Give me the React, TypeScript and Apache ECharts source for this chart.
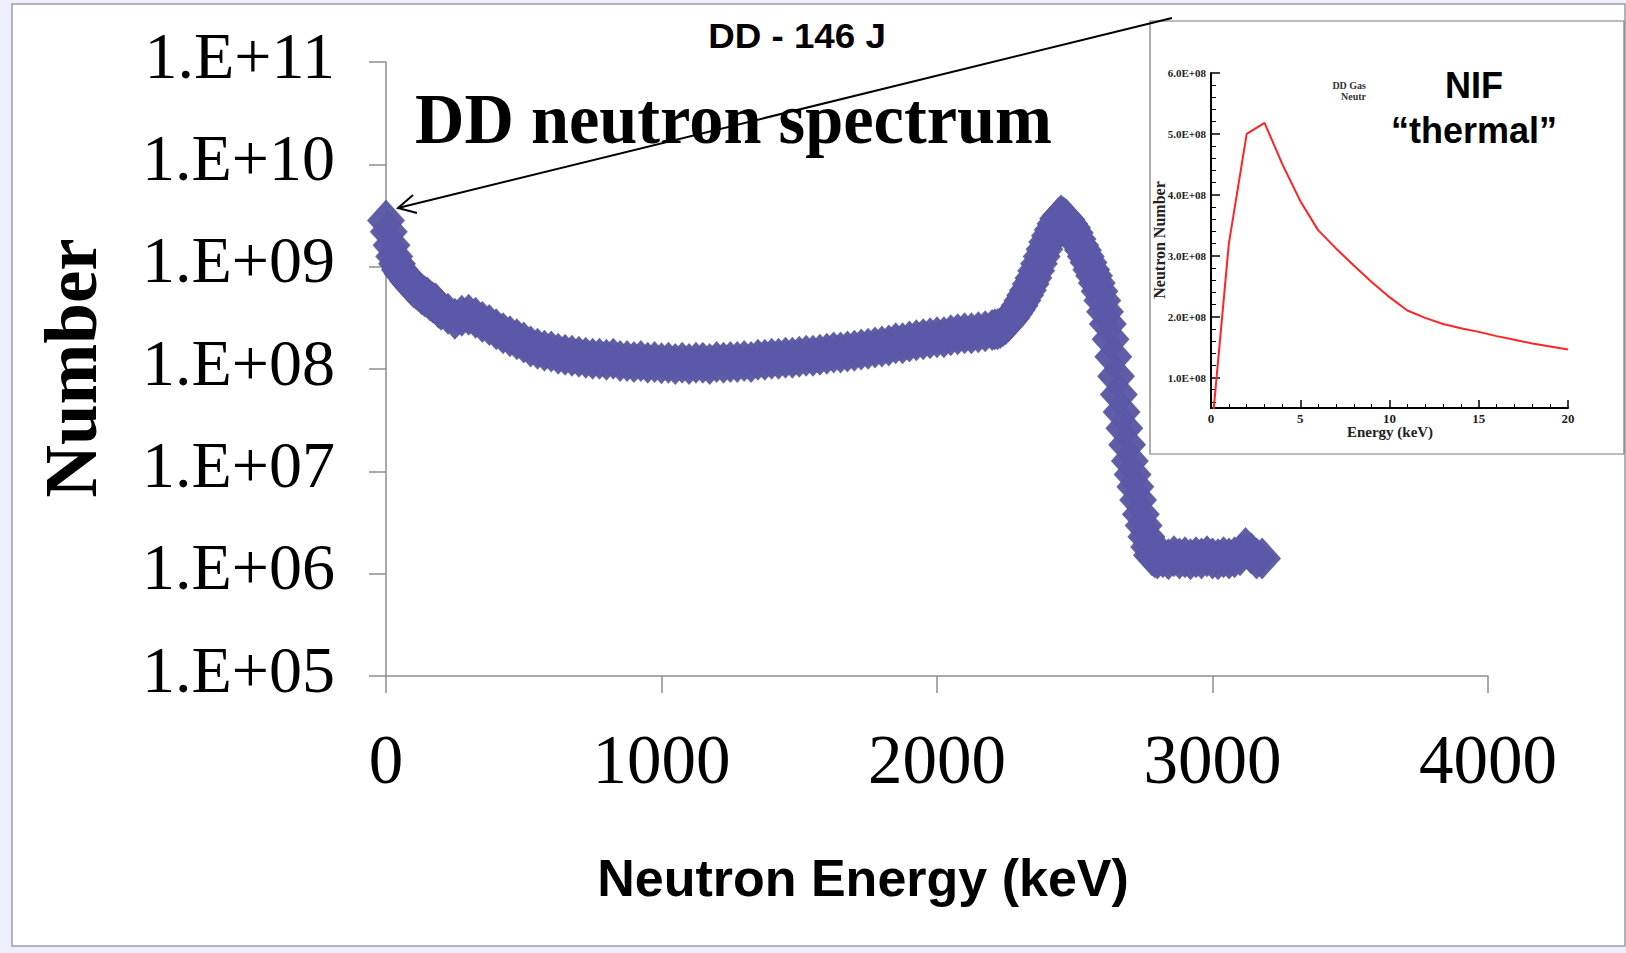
import React, { useEffect, useRef } from "react";
import * as echarts from "echarts";

// DD neutron spectrum: [energy keV, number]
const ddSpectrum: [number, number][] = [
  [0, 2.82e9], [10, 2.19e9], [20, 1.62e9], [30, 1.26e9], [40, 1.07e9], [50, 9.33e8], [60, 8.51e8],
  [70, 7.94e8], [80, 7.24e8], [90, 6.76e8], [100, 6.31e8], [110, 6.03e8], [120, 5.75e8], [130, 5.37e8],
  [140, 5.13e8], [150, 5.01e8], [160, 4.68e8], [170, 4.47e8], [180, 4.37e8], [190, 3.98e8], [200, 3.8e8],
  [225, 3.47e8], [250, 3.09e8], [275, 3.31e8], [300, 3.39e8], [325, 3.16e8], [350, 2.88e8], [375, 2.69e8],
  [400, 2.45e8], [425, 2.24e8], [450, 2.09e8], [475, 1.95e8], [500, 1.82e8], [525, 1.66e8], [550, 1.58e8],
  [575, 1.51e8], [600, 1.48e8], [625, 1.41e8], [650, 1.38e8], [675, 1.35e8], [700, 1.32e8], [725, 1.29e8],
  [750, 1.26e8], [775, 1.26e8], [800, 1.23e8], [825, 1.26e8], [850, 1.2e8], [875, 1.2e8], [900, 1.17e8],
  [925, 1.2e8], [950, 1.15e8], [975, 1.17e8], [1000, 1.14e8], [1025, 1.15e8], [1050, 1.12e8], [1075, 1.15e8],
  [1100, 1.12e8], [1125, 1.15e8], [1150, 1.15e8], [1175, 1.12e8], [1200, 1.17e8], [1225, 1.15e8], [1250, 1.17e8],
  [1275, 1.17e8], [1300, 1.2e8], [1325, 1.17e8], [1350, 1.23e8], [1375, 1.23e8], [1400, 1.26e8], [1425, 1.26e8],
  [1450, 1.29e8], [1475, 1.29e8], [1500, 1.32e8], [1525, 1.35e8], [1550, 1.35e8], [1575, 1.38e8], [1600, 1.41e8],
  [1625, 1.45e8], [1650, 1.45e8], [1675, 1.48e8], [1700, 1.51e8], [1725, 1.55e8], [1750, 1.58e8], [1775, 1.62e8],
  [1800, 1.66e8], [1825, 1.7e8], [1850, 1.78e8], [1875, 1.78e8], [1900, 1.86e8], [1925, 1.91e8], [1950, 1.95e8],
  [1975, 2.0e8], [2000, 2.04e8], [2025, 2.04e8], [2050, 2.14e8], [2075, 2.19e8], [2100, 2.24e8], [2125, 2.24e8],
  [2150, 2.29e8], [2175, 2.34e8], [2200, 2.4e8], [2210, 2.45e8], [2220, 2.45e8], [2230, 2.51e8], [2240, 2.63e8],
  [2250, 2.75e8], [2260, 2.95e8], [2270, 3.16e8], [2280, 3.47e8], [2290, 3.8e8], [2300, 4.17e8], [2310, 4.68e8],
  [2320, 5.25e8], [2330, 5.89e8], [2340, 6.76e8], [2350, 7.76e8], [2360, 9.12e8], [2370, 1.07e9], [2380, 1.26e9],
  [2390, 1.48e9], [2400, 1.74e9], [2410, 2.0e9], [2420, 2.29e9], [2430, 2.63e9], [2440, 2.95e9], [2450, 3.16e9],
  [2460, 3.02e9], [2470, 2.88e9], [2480, 2.63e9], [2490, 2.4e9], [2500, 2.14e9], [2510, 1.86e9], [2520, 1.62e9],
  [2530, 1.45e9], [2540, 1.26e9], [2550, 1.1e9], [2560, 9.33e8], [2570, 8.13e8], [2580, 6.92e8], [2590, 5.75e8],
  [2600, 4.68e8], [2610, 3.63e8], [2620, 2.75e8], [2630, 1.95e8], [2640, 1.32e8], [2650, 8.51e7], [2660, 5.62e7],
  [2670, 3.8e7], [2680, 2.63e7], [2690, 1.82e7], [2700, 1.26e7], [2710, 9.33e6], [2720, 7.08e6], [2730, 5.25e6],
  [2740, 3.8e6], [2750, 2.95e6], [2760, 2.29e6], [2770, 1.82e6], [2780, 1.51e6], [2790, 1.45e6], [2800, 1.41e6],
  [2820, 1.45e6], [2840, 1.38e6], [2860, 1.48e6], [2880, 1.41e6], [2900, 1.45e6], [2920, 1.38e6], [2940, 1.45e6],
  [2960, 1.41e6], [2980, 1.48e6], [3000, 1.41e6], [3020, 1.38e6], [3040, 1.45e6], [3060, 1.41e6], [3080, 1.45e6],
  [3100, 1.51e6], [3120, 1.78e6], [3140, 1.58e6], [3160, 1.41e6], [3180, 1.41e6],
];

// Inset: NIF "thermal" DD gas neutrons
const insetEnergy = [0, 1, 2, 3, 4, 5, 6, 7, 8, 9, 10, 11, 12, 13, 14, 15, 16, 17, 18, 19, 20];
const insetNumber = [
  0, 3.2e8, 5.0e8, 5.18e8, 4.5e8, 3.9e8, 3.42e8, 3.12e8, 2.84e8, 2.57e8, 2.32e8,
  2.1e8, 1.98e8, 1.88e8, 1.81e8, 1.75e8, 1.68e8, 1.62e8, 1.56e8, 1.51e8, 1.46e8,
];

const mainXTicks = { min: 0, max: 4000, interval: 1000 };
const mainYRange = { min: 1e5, max: 1e11 };
const insetXRange = { min: 0, max: 20, interval: 5 };
const insetYRange = { min: 5e7, max: 6e8 };

const SERIF = "'Liberation Serif', 'Times New Roman', serif";
const SANS = "'Liberation Sans', Arial, sans-serif";

export default function App() {
  const ref = useRef<HTMLDivElement>(null);

  useEffect(() => {
    if (!ref.current) return;
    const chart = echarts.init(ref.current, null, { renderer: "svg" });

    const axisGray = "#8e8e8e";
    const option: any = {
      animation: false,
      backgroundColor: "#edf0fb",
      grid: [
        { left: 386, top: 62, width: 1102, height: 614, containLabel: false },
        { left: 1211, top: 73, width: 357, height: 335, containLabel: false },
      ],
      xAxis: [
        {
          type: "value",
          gridIndex: 0,
          min: mainXTicks.min,
          max: mainXTicks.max,
          interval: mainXTicks.interval,
          splitLine: { show: false },
          axisLine: { show: true, onZero: false, lineStyle: { color: axisGray, width: 1.5 } },
          axisTick: { show: true, length: 17, lineStyle: { color: axisGray, width: 1.5 } },
          axisLabel: {
            fontFamily: SERIF,
            fontSize: 69,
            color: "#000",
            margin: 49,
            formatter: (v: number) => String(v),
          },
        },
        {
          type: "value",
          gridIndex: 1,
          min: insetXRange.min,
          max: insetXRange.max,
          interval: insetXRange.interval,
          splitLine: { show: false },
          axisLine: { show: true, onZero: false, lineStyle: { color: "#000", width: 2 } },
          axisTick: { show: true, inside: true, length: 8, lineStyle: { color: "#000", width: 1.5 } },
          minorTick: { show: true, splitNumber: 5, length: 4, lineStyle: { color: "#000", width: 1 } },
          axisLabel: { fontFamily: SERIF, fontWeight: "bold", fontSize: 13, color: "#222", margin: 4 },
        },
      ],
      yAxis: [
        {
          type: "log",
          logBase: 10,
          gridIndex: 0,
          min: mainYRange.min,
          max: mainYRange.max,
          splitLine: { show: false },
          axisLine: { show: true, lineStyle: { color: axisGray, width: 1.5 } },
          axisTick: { show: true, length: 17, lineStyle: { color: axisGray, width: 1.5 } },
          axisLabel: {
            fontFamily: SERIF,
            fontSize: 66,
            color: "#000",
            margin: 51,
            verticalAlign: "bottom",
            lineHeight: 14,
            formatter: (v: number) => {
              const e = Math.round(Math.log10(v));
              return "1.E+" + String(e).padStart(2, "0");
            },
          },
        },
        {
          type: "value",
          gridIndex: 1,
          min: insetYRange.min,
          max: insetYRange.max,
          splitNumber: 5,
          splitLine: { show: false },
          axisLine: { show: true, onZero: false, lineStyle: { color: "#000", width: 2 } },
          axisTick: { show: true, inside: true, length: 9, lineStyle: { color: "#000", width: 1.5 } },
          minorTick: { show: true, splitNumber: 5, length: 5, lineStyle: { color: "#000", width: 1 } },
          axisLabel: {
            fontFamily: SERIF,
            fontWeight: "bold",
            fontSize: 11,
            color: "#222",
            margin: 5,
            formatter: (v: number) =>
              Math.abs(v % 1e8) < 1 ? (v / 1e8).toFixed(1) + "E+08" : "",
          },
        },
      ],
      series: [
        {
          type: "scatter",
          xAxisIndex: 0,
          yAxisIndex: 0,
          symbol: "diamond",
          symbolSize: [38, 42],
          silent: true,
          itemStyle: { color: "#48468c" },
          data: ddSpectrum,
          z: 2,
        },
        {
          type: "scatter",
          xAxisIndex: 0,
          yAxisIndex: 0,
          symbol: "diamond",
          symbolSize: [36, 40],
          silent: true,
          itemStyle: { color: "#5b59a9" },
          data: ddSpectrum,
          z: 3,
        },
        {
          type: "line",
          xAxisIndex: 1,
          yAxisIndex: 1,
          showSymbol: false,
          silent: true,
          clip: true,
          lineStyle: { color: "#ff2424", width: 2 },
          data: insetEnergy.map((e, i) => [e, insetNumber[i]]),
          z: 5,
        },
      ],
      graphic: [
        {
          type: "rect",
          z: -10,
          silent: true,
          shape: { x: 12, y: 4, width: 1613, height: 942 },
          style: { fill: "#ffffff", stroke: "#9c9caa", lineWidth: 1.5 },
        },
        {
          type: "rect",
          z: -5,
          silent: true,
          shape: { x: 1150, y: 21, width: 474, height: 433 },
          style: { fill: "#ffffff", stroke: "#7a7a7a", lineWidth: 1.2 },
        },
        {
          type: "text",
          z: 10,
          x: 415,
          y: 118,
          scaleX: 0.95,
          style: {
            text: "DD neutron spectrum",
            fontFamily: SERIF,
            fontWeight: "bold",
            fontSize: 72,
            fill: "#000",
            align: "left",
            verticalAlign: "middle",
          },
        },
        {
          type: "text",
          z: 10,
          x: 797,
          y: 36,
          scaleX: 1.05,
          style: {
            text: "DD - 146 J",
            fontFamily: SANS,
            fontWeight: "bold",
            fontSize: 35,
            fill: "#000",
            align: "center",
            verticalAlign: "middle",
          },
        },
        {
          type: "text",
          z: 10,
          x: 71,
          y: 368,
          rotation: Math.PI / 2,
          style: {
            text: "Number",
            fontFamily: SERIF,
            fontWeight: "bold",
            fontSize: 73,
            fill: "#000",
            align: "center",
            verticalAlign: "middle",
          },
        },
        {
          type: "text",
          z: 10,
          x: 863,
          y: 878,
          style: {
            text: "Neutron Energy (keV)",
            fontFamily: SANS,
            fontWeight: "bold",
            fontSize: 52,
            fill: "#000",
            align: "center",
            verticalAlign: "middle",
          },
        },
        {
          type: "polyline",
          z: 12,
          silent: true,
          shape: { points: [[1172, 18], [398, 208]] },
          style: { stroke: "#000", lineWidth: 2, fill: null },
        },
        {
          type: "polyline",
          z: 12,
          silent: true,
          shape: { points: [[417, 213], [398, 208], [413, 195]] },
          style: { stroke: "#000", lineWidth: 2, fill: null },
        },
        {
          type: "text",
          z: 10,
          x: 1474,
          y: 85,
          style: {
            text: "NIF",
            fontFamily: SANS,
            fontWeight: "bold",
            fontSize: 36,
            fill: "#000",
            align: "center",
            verticalAlign: "middle",
          },
        },
        {
          type: "text",
          z: 10,
          x: 1474,
          y: 130,
          style: {
            text: "\u201cthermal\u201d",
            fontFamily: SANS,
            fontWeight: "bold",
            fontSize: 36,
            fill: "#000",
            align: "center",
            verticalAlign: "middle",
          },
        },
        {
          type: "text",
          z: 10,
          x: 1366,
          y: 85,
          style: {
            text: "DD Gas",
            fontFamily: SERIF,
            fontWeight: "bold",
            fontSize: 10,
            fill: "#333",
            align: "right",
            verticalAlign: "middle",
          },
        },
        {
          type: "text",
          z: 10,
          x: 1366,
          y: 96,
          style: {
            text: "Neutr",
            fontFamily: SERIF,
            fontWeight: "bold",
            fontSize: 10,
            fill: "#333",
            align: "right",
            verticalAlign: "middle",
          },
        },
        {
          type: "text",
          z: 10,
          x: 1159,
          y: 240,
          rotation: Math.PI / 2,
          style: {
            text: "Neutron Number",
            fontFamily: SERIF,
            fontWeight: "bold",
            fontSize: 16,
            fill: "#222",
            align: "center",
            verticalAlign: "middle",
          },
        },
        {
          type: "text",
          z: 10,
          x: 1390,
          y: 432,
          style: {
            text: "Energy (keV)",
            fontFamily: SERIF,
            fontWeight: "bold",
            fontSize: 15,
            fill: "#222",
            align: "center",
            verticalAlign: "middle",
          },
        },
      ],
    };

    chart.setOption(option);
    return () => chart.dispose();
  }, []);

  return (
    <div
      ref={ref}
      style={{ position: "fixed", left: 0, top: 0, width: 1626, height: 953 }}
    />
  );
}
